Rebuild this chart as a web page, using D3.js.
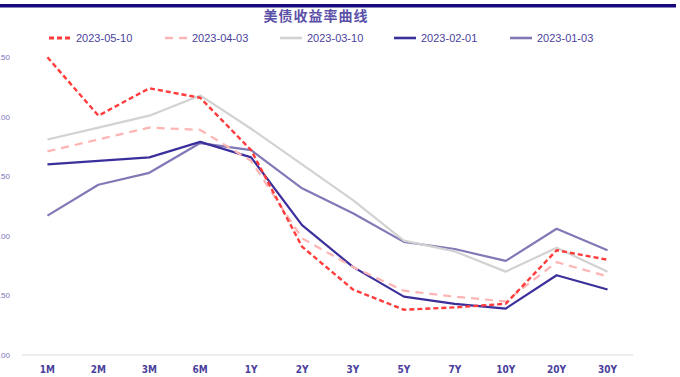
<!DOCTYPE html>
<html>
<head>
<meta charset="utf-8">
<script src="https://cdn.jsdelivr.net/npm/d3@7"></script>
<style>
  html, body { margin: 0; padding: 0; background: #fff; }
  svg { display: block; }
</style>
</head>
<body>
<svg id="chart" width="680" height="377"></svg>
<script>
// Tenors on the x axis
const tenors = ["1M", "2M", "3M", "6M", "1Y", "2Y", "3Y", "5Y", "7Y", "10Y", "20Y", "30Y"];

// Treasury yields (%) per date
const y20230510 = [5.50, 5.01, 5.24, 5.16, 4.72, 3.91, 3.55, 3.38, 3.40, 3.43, 3.88, 3.80];
const y20230403 = [4.71, 4.81, 4.91, 4.89, 4.63, 3.98, 3.74, 3.54, 3.49, 3.45, 3.78, 3.66];
const y20230310 = [4.81, 4.91, 5.01, 5.18, 4.90, 4.60, 4.30, 3.96, 3.87, 3.70, 3.90, 3.70];
const y20230201 = [4.60, 4.63, 4.66, 4.79, 4.66, 4.09, 3.74, 3.49, 3.43, 3.39, 3.67, 3.55];
const y20230103 = [4.17, 4.43, 4.53, 4.78, 4.72, 4.40, 4.19, 3.95, 3.89, 3.79, 4.06, 3.88];

const seriesNames = ["2023-05-10", "2023-04-03", "2023-03-10", "2023-02-01", "2023-01-03"];
const yTicks = [3.0, 3.5, 4.0, 4.5, 5.0, 5.5];

const series = [
  { name: seriesNames[0], values: y20230510, color: "#ff3b3b", width: 2.4, dash: "5,3" },
  { name: seriesNames[1], values: y20230403, color: "#ffb4b4", width: 2.2, dash: "8,6" },
  { name: seriesNames[2], values: y20230310, color: "#d2d2d2", width: 2.2, dash: null },
  { name: seriesNames[3], values: y20230201, color: "#3b2f9b", width: 2.2, dash: null },
  { name: seriesNames[4], values: y20230103, color: "#8079b6", width: 2.2, dash: null }
];

const svg = d3.select("#chart");
const textColor = "#4b3f9c";

// Header band
svg.append("rect")
  .attr("x", 0).attr("y", 4).attr("width", 676).attr("height", 3.5)
  .attr("fill", "#17087e");

// Title
svg.append("text")
  .attr("x", 316).attr("y", 21)
  .attr("text-anchor", "middle")
  .attr("font-family", "'Noto Sans CJK SC', sans-serif")
  .attr("font-weight", "bold")
  .attr("font-size", 14)
  .attr("fill", "#5b50a8")
  .attr("letter-spacing", 1)
  .text("美债收益率曲线");

// Scales
const x = d3.scalePoint().domain(tenors).range([22, 633]).padding(0.5);
const y = d3.scaleLinear().domain([3.0, 5.5]).range([355, 57.3]);

// Baseline axis
svg.append("line")
  .attr("x1", 22).attr("x2", 633)
  .attr("y1", y(3.0)).attr("y2", y(3.0))
  .attr("stroke", "#d9d9d9").attr("stroke-width", 1);

// Y tick labels
svg.append("g")
  .selectAll("text")
  .data(yTicks)
  .join("text")
  .attr("x", 10)
  .attr("y", d => y(d) + 3)
  .attr("text-anchor", "end")
  .attr("font-family", "'Liberation Sans', Arial, sans-serif")
  .attr("font-size", 8)
  .attr("fill", "#7a70b8")
  .text(d => d.toFixed(2));

// X tick labels
svg.append("g")
  .selectAll("text")
  .data(tenors)
  .join("text")
  .attr("x", d => x(d))
  .attr("y", 373)
  .attr("text-anchor", "middle")
  .attr("font-family", "'DejaVu Sans Condensed', 'DejaVu Sans', sans-serif")
  .attr("font-weight", "bold")
  .attr("font-size", 10)
  .attr("fill", textColor)
  .text(d => d);

// Lines, drawn oldest first so the latest sits on top
const line = d3.line()
  .x((d, i) => x(tenors[i]))
  .y(d => y(d));

svg.append("g")
  .selectAll("path")
  .data(series.slice().reverse())
  .join("path")
  .attr("d", d => line(d.values))
  .attr("fill", "none")
  .attr("stroke", d => d.color)
  .attr("stroke-width", d => d.width)
  .attr("stroke-dasharray", d => d.dash)
  .attr("stroke-linejoin", "round");

// Legend
const legendX = [49, 165, 280, 394, 510];
const legend = svg.append("g")
  .selectAll("g")
  .data(series)
  .join("g")
  .attr("transform", (d, i) => `translate(${legendX[i]},38)`);

legend.append("line")
  .attr("x1", 0).attr("x2", 22)
  .attr("y1", 0).attr("y2", 0)
  .attr("stroke", d => d.color)
  .attr("stroke-width", d => d.width + 0.4)
  .attr("stroke-dasharray", d => d.dash);

legend.append("text")
  .attr("x", 27).attr("y", 4)
  .attr("font-family", "'Liberation Sans', Arial, sans-serif")
  .attr("font-size", 11)
  .attr("fill", textColor)
  .text(d => d.name);
</script>
</body>
</html>
